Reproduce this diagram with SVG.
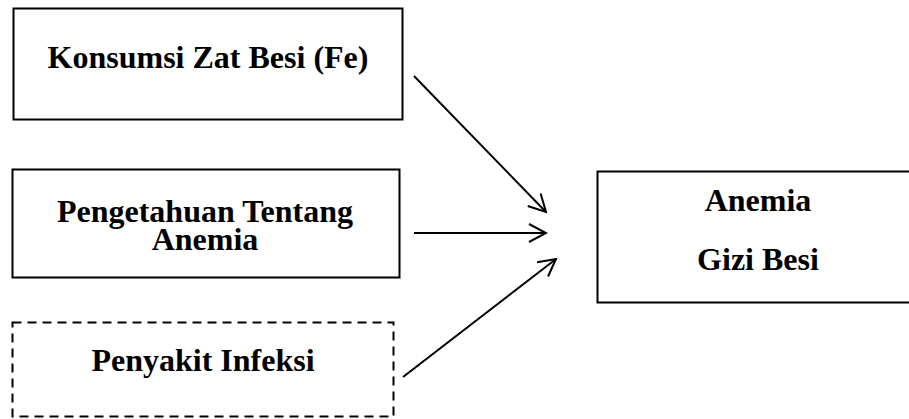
<svg xmlns="http://www.w3.org/2000/svg" width="909" height="419" viewBox="0 0 909 419">
<style>
.box{fill:#fff;stroke:#000;stroke-width:2}
.dash{stroke-dasharray:9 6}
text{font-family:"Liberation Serif","Times New Roman",serif;font-weight:bold;font-size:32px;fill:#000;text-anchor:middle}
.conn{stroke:#000;stroke-width:2;fill:none}
</style>
<defs>
<marker id="arr" viewBox="0 0 20 20" refX="18" refY="10" markerWidth="20" markerHeight="20" markerUnits="userSpaceOnUse" orient="auto">
<path d="M1,1 L18,10 L1,19" fill="none" stroke="#000" stroke-width="2"/>
</marker>
</defs>
<g id="node-konsumsi">
<rect class="box" x="13.5" y="8.5" width="389" height="111"/>
<text x="208" y="68">Konsumsi Zat Besi (Fe)</text>
</g>
<g id="node-pengetahuan">
<rect class="box" x="12.5" y="169.5" width="387" height="108"/>
<text x="205" y="222">Pengetahuan Tentang</text>
<text x="205" y="250">Anemia</text>
</g>
<g id="node-infeksi">
<rect class="box dash" x="12.5" y="322.5" width="381" height="94"/>
<text x="203" y="371">Penyakit Infeksi</text>
</g>
<g id="node-anemia">
<rect class="box" x="597.5" y="171.5" width="315" height="131"/>
<text x="758" y="211">Anemia</text>
<text x="758" y="270">Gizi Besi</text>
</g>
<g id="connectors">
<line class="conn" x1="414" y1="76" x2="546" y2="212" marker-end="url(#arr)"/>
<line class="conn" x1="414" y1="233" x2="546" y2="233" marker-end="url(#arr)"/>
<line class="conn" x1="403" y1="377" x2="556" y2="259" marker-end="url(#arr)"/>
</g>
</svg>
